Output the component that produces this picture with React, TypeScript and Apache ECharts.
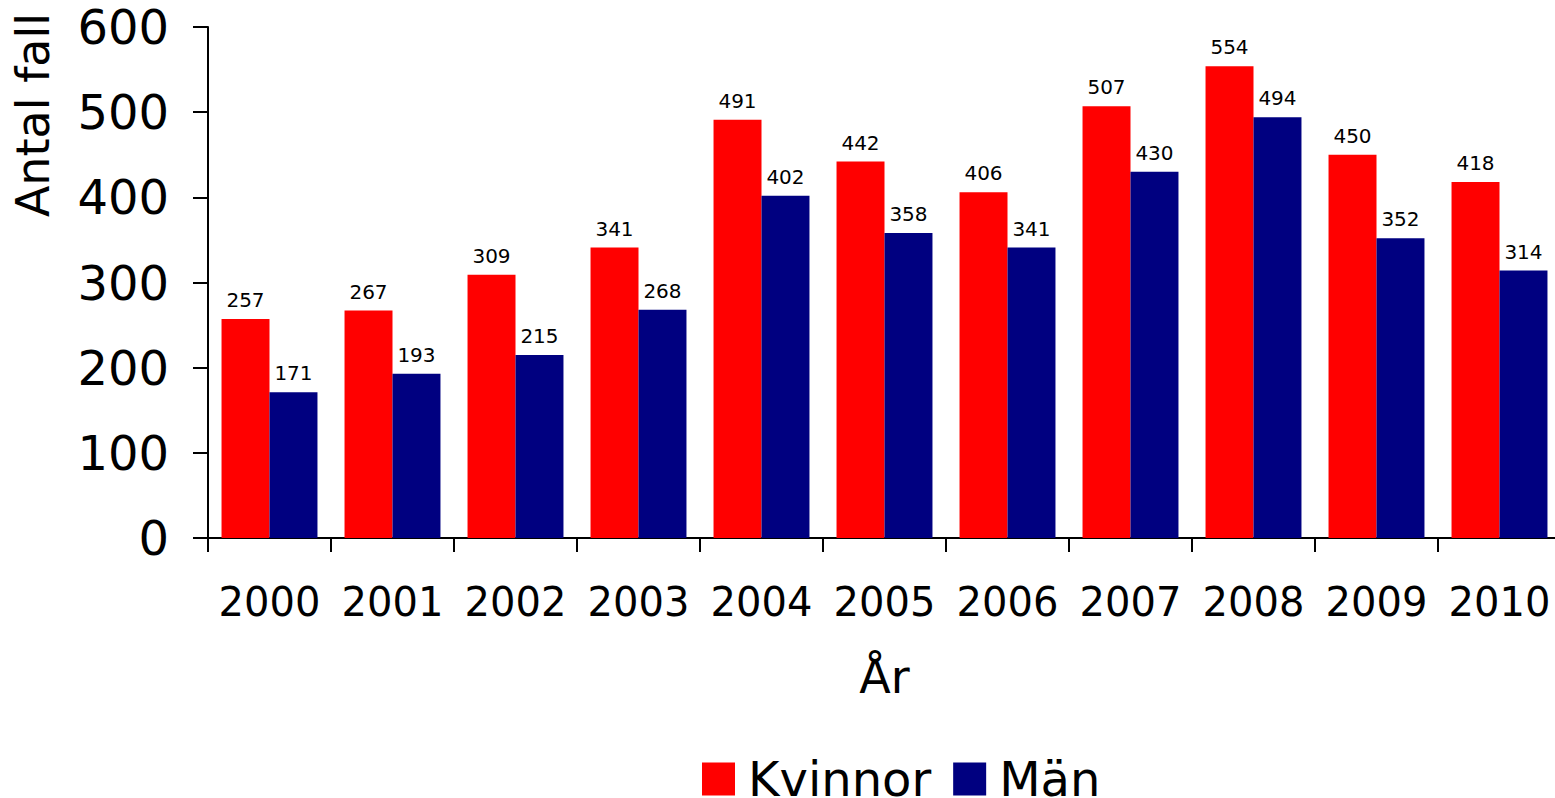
import React, { useEffect, useRef } from "react";
import * as echarts from "echarts";

const years = ["2000", "2001", "2002", "2003", "2004", "2005", "2006", "2007", "2008", "2009", "2010"];
const kvinnor = [257, 267, 309, 341, 491, 442, 406, 507, 554, 450, 418];
const man = [171, 193, 215, 268, 402, 358, 341, 430, 494, 352, 314];
const seriesNames = ["Kvinnor", "Män"];
const yAxisTitle = "Antal fall";
const xAxisTitle = "År";

const FONT = "'DejaVu Sans', Verdana, sans-serif";

export default function App() {
  const ref = useRef<HTMLDivElement>(null);
  useEffect(() => {
    if (!ref.current) return;
    const chart = echarts.init(ref.current, null, { renderer: "svg" });
    const label = {
      show: true,
      position: "top",
      distance: 9,
      color: "#000",
      fontFamily: FONT,
      fontSize: 20,
      lineHeight: 20,
    };
    chart.setOption({
      animation: false,
      backgroundColor: "#fff",
      textStyle: { fontFamily: FONT },
      grid: { left: 208, top: 27, width: 1353, height: 511, containLabel: false, outerBoundsMode: "none" },
      legend: {
        data: seriesNames,
        left: 702,
        top: 755,
        padding: 0,
        itemWidth: 33,
        itemHeight: 33,
        itemGap: 22,
        icon: "rect",
        textStyle: { fontFamily: FONT, fontSize: 48, lineHeight: 48, color: "#000", padding: [0, 0, 0, 8] },
      },
      xAxis: {
        type: "category",
        data: years,
        name: xAxisTitle,
        nameLocation: "middle",
        nameGap: 116,
        nameTextStyle: { fontFamily: FONT, fontSize: 46, lineHeight: 46, color: "#000" },
        axisLine: { show: true, lineStyle: { color: "#000", width: 2 } },
        axisTick: { show: true, length: 14, lineStyle: { color: "#000", width: 2 }, alignWithLabel: false },
        axisLabel: { interval: 0, fontFamily: FONT, fontSize: 40, lineHeight: 40, color: "#000", margin: 44 },
        splitLine: { show: false },
      },
      yAxis: {
        type: "value",
        min: 0,
        max: 600,
        interval: 100,
        axisLine: { show: true, lineStyle: { color: "#000", width: 2 } },
        axisTick: { show: true, length: 15, lineStyle: { color: "#000", width: 2 } },
        axisLabel: { fontFamily: FONT, fontSize: 48, lineHeight: 48, color: "#000", margin: 39, padding: [7, 0, 0, 0] },
        splitLine: { show: false },
      },
      graphic: [
        {
          type: "text",
          x: 33,
          y: 115,
          rotation: Math.PI / 2,
          style: {
            text: yAxisTitle,
            fontFamily: FONT,
            fontSize: 46,
            fill: "#000",
            textAlign: "center",
            textVerticalAlign: "middle",
          },
        },
      ],
      series: [
        {
          name: seriesNames[0],
          type: "bar",
          data: kvinnor,
          barGap: "0%",
          barCategoryGap: "22%",
          itemStyle: { color: "#FF0000" },
          label,
        },
        {
          name: seriesNames[1],
          type: "bar",
          data: man,
          barGap: "0%",
          barCategoryGap: "22%",
          itemStyle: { color: "#000080" },
          label,
        },
      ],
    });
    return () => chart.dispose();
  }, []);
  return <div ref={ref} style={{ position: "absolute", left: 0, top: 0, width: 1555, height: 798 }} />;
}
